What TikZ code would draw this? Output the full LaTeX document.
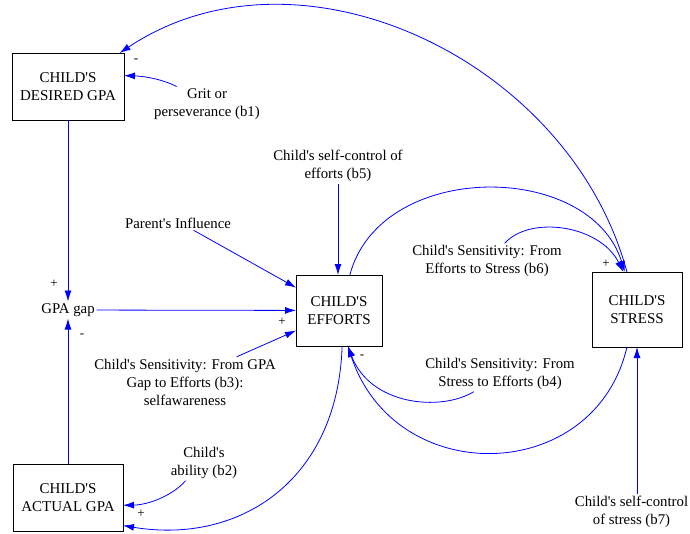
\documentclass[tikz,border=0pt]{standalone}
\usepackage{fontspec}
\newfontfamily\diagfont{Liberation Serif}
\usetikzlibrary{arrows.meta, positioning}
\definecolor{linkblue}{RGB}{0,0,255}
\newcommand{\boxfont}{\diagfont\fontsize{15}{18.5}\selectfont}
\newcommand{\labfont}{\diagfont\fontsize{14.8}{18}\selectfont}
\newcommand{\signfont}{\diagfont\fontsize{13}{13}\selectfont}
\tikzset{
  stock/.style={rectangle, draw=black, fill=white, align=center,
    font=\boxfont, line width=1pt, inner sep=0pt, outer sep=0pt},
  aux/.style={align=center, font=\labfont, inner sep=2pt, outer sep=0pt},
  sign/.style={font=\signfont, inner sep=0pt},
  link/.style={-{Latex[length=11pt,width=7pt]}, color=linkblue, line width=0.8pt}
}

\begin{document}
\begin{tikzpicture}[x=1pt, y=-1pt]
  \useasboundingbox (0,0) rectangle (690,533);

  % Stocks
  \node[stock, minimum width=112pt, minimum height=67pt] (desired) at (68,86.5) {CHILD'S\\DESIRED GPA};
  \node[stock, minimum width=86pt, minimum height=71pt] (efforts) at (339,310.5) {CHILD'S\\EFFORTS};
  \node[stock, minimum width=90pt, minimum height=75pt] (stress) at (637,309.5) {CHILD'S\\STRESS};
  \node[stock, minimum width=110pt, minimum height=67pt] (actual) at (68,497.5) {CHILD'S\\ACTUAL GPA};

  % Auxiliaries
  \node[aux] (gapv) at (68,310) {GPA gap};
  \node[aux] (grit) at (207,104) {Grit or\\perseverance (b1)};
  \node[aux] (selfeff) at (338,166) {Child's self-control of\\efforts (b5)};
  \node[aux] (parent) at (178,223) {Parent's Influence};
  \node[aux] (sensgap) at (185,382) {Child's Sensitivity: From GPA\\Gap to Efforts (b3):\\selfawareness};
  \node[aux] (senstr) at (487,261) {Child's Sensitivity: From\\Efforts to Stress (b6)};
  \node[aux] (senseff) at (500,374) {Child's Sensitivity: From\\Stress to Efforts (b4)};
  \node[aux] (ability) at (204,463) {Child's\\ability (b2)};
  \node[aux] (selfstress) at (631.5,512) {Child's self-control\\of stress (b7)};

  % Polarities
  \node[sign] (sgndes) at (136,61) {-};
  \node[sign] (sgngapin) at (54,284) {+};
  \node[sign] (sgngapout) at (82,336) {-};
  \node[sign] (sgneffin) at (282,322) {+};
  \node[sign] (sgneffout) at (362,357) {-};
  \node[sign] (sgnstr) at (606,264) {+};
  \node[sign] (sgnact) at (141,514) {+};

  % Links
  \draw[link] (desired.south) -- (gapv.north);
  \draw[link] (actual.north) -- (gapv.south);
  \draw[link] (gapv) -- (efforts);
  \draw[link] (parent.-25) -- (efforts.152);
  \draw[link] (sensgap.26) -- (efforts.205);
  \draw[link] (selfeff.south) -- (selfeff.south |- efforts.north);
  \draw[link] (grit.150) .. controls (160,78) and (140,76) .. (desired.11);
  \draw[link] (stress.105) .. controls (570,60) and (300,-67) .. (desired.33);
  \draw[link] (efforts.73) .. controls (380,160) and (590,160) .. (stress.108);
  \draw[link] (senstr.45) .. controls (530,215) and (600,225) .. (stress.110);
  \draw[link] (stress.-105) .. controls (595,485) and (395,490) .. (efforts.-76);
  \draw[link] (senseff.-146) .. controls (440,412) and (370,405) .. (efforts.-76);
  \draw[link] (efforts.-85) .. controls (338,480) and (240,545) .. (actual.-27);
  \draw[link] (ability.-136) .. controls (170,498) and (145,505) .. (actual.-8);
  \draw[link] (selfstress.north -| stress.south) -- (stress.south);
\end{tikzpicture}
\end{document}
